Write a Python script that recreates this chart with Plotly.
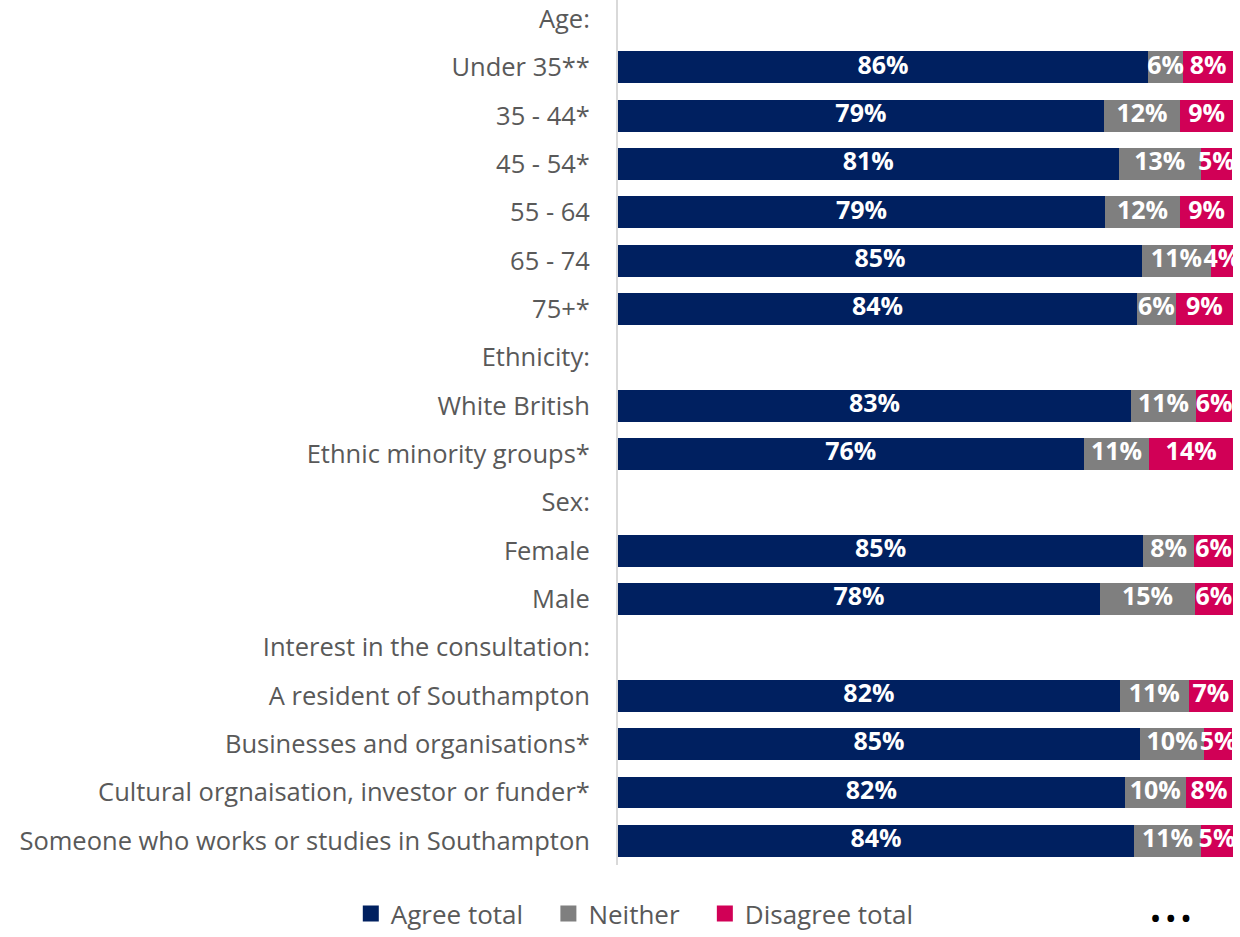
import plotly.graph_objects as go

categories = ["Age:", "Under 35**", "35 - 44*", "45 - 54*", "55 - 64", "65 - 74", "75+*",
              "Ethnicity:", "White British", "Ethnic minority groups*",
              "Sex:", "Female", "Male",
              "Interest in the consultation:", "A resident of Southampton",
              "Businesses and organisations*", "Cultural orgnaisation, investor or funder*",
              "Someone who works or studies in Southampton"]

agree =    [None, 86.2, 79.0, 81.4, 79.2, 85.2, 84.4, None, 83.4, 75.7, None, 85.4, 78.4, None, 81.6, 84.9, 82.4, 83.9]
neither =  [None, 5.7, 12.4, 13.4, 12.2, 11.2, 6.3, None, 10.6, 10.7, None, 8.3, 15.4, None, 11.2, 10.4, 9.9, 10.9]
disagree = [None, 8.1, 8.6, 5.0, 8.6, 3.6, 9.3, None, 5.9, 13.6, None, 6.3, 6.2, None, 7.2, 4.6, 7.6, 5.2]

series = [("Agree total", agree, "#002060"),
          ("Neither", neither, "#7F7F7F"),
          ("Disagree total", disagree, "#D10056")]

fig = go.Figure()

# stacked bars
for name, vals, col in series:
    fig.add_trace(go.Bar(
        y=categories, x=vals, name=name, orientation="h",
        marker=dict(color=col, line=dict(width=0)),
        showlegend=False, hoverinfo="skip",
    ))

# value labels centred on each segment
base = [0 if v is not None else None for v in agree]
for name, vals, col in series:
    mids, texts = [], []
    new_base = []
    for b, v in zip(base, vals):
        if v is None:
            mids.append(None); texts.append(""); new_base.append(None)
        else:
            mids.append(b + v / 2); texts.append(f"{v:.0f}%"); new_base.append(b + v)
    base = new_base
    fig.add_trace(go.Scatter(
        y=categories, x=mids, text=texts, mode="text", textposition="middle center",
        textfont=dict(family="Open Sans", size=25, color="white", weight="bold"),
        showlegend=False, hoverinfo="skip", cliponaxis=True,
    ))

# legend entries
for name, vals, col in series:
    fig.add_trace(go.Scatter(
        x=[None], y=[None], mode="markers", name=name + "\u00a0\u00a0\u00a0",
        marker=dict(symbol="square", size=16, color=col),
        showlegend=True, hoverinfo="skip",
    ))

fig.update_layout(
    width=1240, height=937,
    barmode="stack", bargap=0.34,
    margin=dict(l=618, r=7, t=0, b=72, autoexpand=False),
    paper_bgcolor="white", plot_bgcolor="white",
    font=dict(family="Open Sans", color="#595959"),
    showlegend=True,
    legend=dict(orientation="h", xref="container", yref="container",
                x=0.52, xanchor="center", y=0.0, yanchor="bottom",
                font=dict(size=26, color="#595959"), traceorder="normal",
                itemwidth=30, tracegroupgap=0),
    xaxis=dict(range=[0, 100], visible=False, showgrid=False, zeroline=False),
    yaxis=dict(categoryorder="array", categoryarray=categories, range=[17.5, -0.393],
               showline=True, linecolor="#D9D9D9", linewidth=2, ticks="",
               tickfont=dict(size=25.5, color="#595959"), ticklabelstandoff=21,
               showgrid=False),
)
fig.add_annotation(text="<b>• • •</b>", xref="paper", yref="paper",
                   x=(1171 - 618) / 615, y=-(917 - 865) / 865,
                   xanchor="center", yanchor="middle",
                   showarrow=False, font=dict(size=24, color="black"))

fig.write_html("out.html")
